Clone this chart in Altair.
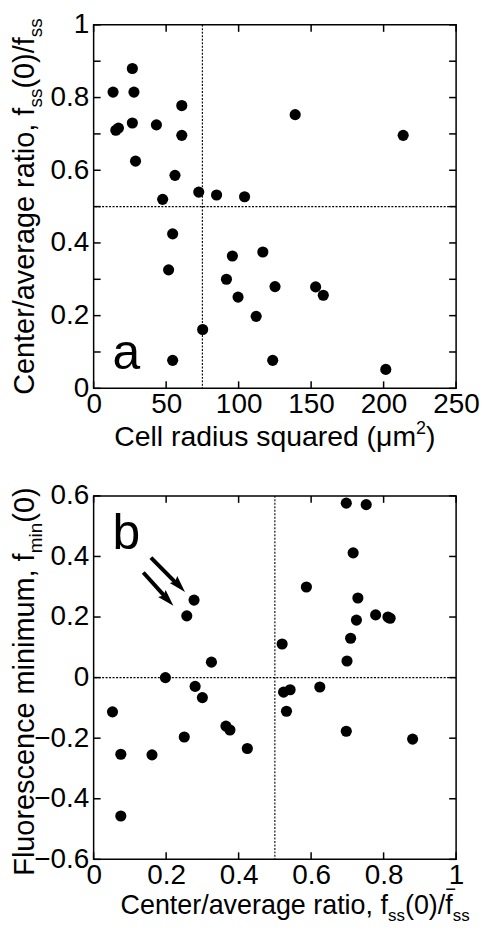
import altair as alt
import pandas as pd
import math

FONT = "Liberation Sans"

# ---------------- data ----------------
# panel a: cell radius squared (um^2) vs center/average ratio
a_radius_sq = [13.4, 26.7, 27.8, 15.3, 17.1, 26.7, 28.9, 43.3, 60.8, 60.8, 56.1, 47.6,
               72.5, 84.8, 104.1, 139.0, 213.5, 54.5, 51.7, 95.7, 116.7, 91.6, 99.6,
               125.1, 153.1, 158.4, 112.1, 75.2, 54.5, 123.5, 201.5]
a_ratio = [0.815, 0.880, 0.815, 0.710, 0.716, 0.730, 0.625, 0.725, 0.778, 0.696, 0.586, 0.520,
           0.540, 0.532, 0.527, 0.753, 0.696, 0.425, 0.326, 0.364, 0.375, 0.300, 0.251,
           0.280, 0.279, 0.256, 0.198, 0.162, 0.077, 0.077, 0.052]

# panel b: center/average ratio vs fluorescence minimum
b_ratio = [0.697, 0.752, 0.716, 0.587, 0.277, 0.729, 0.257, 0.778, 0.812, 0.818, 0.725,
           0.520, 0.709, 0.325, 0.699, 0.198, 0.280, 0.300, 0.524, 0.542, 0.624, 0.532,
           0.052, 0.365, 0.376, 0.697, 0.880, 0.250, 0.424, 0.075, 0.161, 0.075]
b_fmin = [0.576, 0.571, 0.412, 0.299, 0.256, 0.263, 0.204, 0.207, 0.200, 0.196, 0.190,
          0.111, 0.130, 0.051, 0.055, 0.000, -0.029, -0.066, -0.048, -0.040, -0.031, -0.111,
          -0.113, -0.160, -0.173, -0.177, -0.203, -0.196, -0.234, -0.253, -0.255, -0.457]

a_xlabels = [0, 50, 100, 150, 200, 250]
a_xticks = [0, 50, 100, 150, 200, 250]
a_ylabels = [0, 0.2, 0.4, 0.6, 0.8, 1]
a_yticks = [0, 0.1, 0.2, 0.3, 0.4, 0.5, 0.6, 0.7, 0.8, 0.9, 1]
a_xref = [75]
a_yref = [0.5]

b_xlabels = [0, 0.2, 0.4, 0.6, 0.8, 1]
b_xticks = [0, 0.2, 0.4, 0.6, 0.8, 1]
b_ylabels = [-0.6, -0.4, -0.2, 0, 0.2, 0.4, 0.6]
b_yticks = [-0.6, -0.4, -0.2, 0, 0.2, 0.4, 0.6]
b_xref = [0.5]
b_yref = [0]

arrow_tail_x = [0.137, 0.158]
arrow_tail_y = [0.347, 0.396]
arrow_tip_x = [0.220, 0.252]
arrow_tip_y = [0.237, 0.283]

# ---------------- layout ----------------
W = 364
HA = 365
HB = 365
TICK = 7
LABEL_SIZE = 28
YT_X = -60

ARIAL = {' ': 278, '(': 333, ')': 333, ',': 278, '/': 278, '0': 556, '2': 556, 'C': 722,
         'F': 611, 'a': 556, 'c': 500, 'd': 556, 'e': 556, 'f': 278, 'g': 556, 'i': 222,
         'l': 222, 'm': 833, 'n': 556, 'o': 556, 'q': 556, 'r': 333, 's': 500, 't': 278,
         'u': 556, 'v': 500, 'μ': 576}


def tw(s, size):
    return sum(ARIAL.get(c, 556) for c in s) / 1000.0 * size


ONE = pd.DataFrame({"d": [0]})


def xenc(field, domain, labels):
    return alt.X(field, type="quantitative",
                 scale=alt.Scale(domain=domain, nice=False, zero=False),
                 axis=alt.Axis(values=labels, format="~f", ticks=False, domain=False,
                               grid=False, labelFont=FONT, labelFontSize=LABEL_SIZE,
                               labelColor="black", labelPadding=2, labelOverlap=False,
                               labelFlush=False, title=None))


def yenc(field, domain, labels):
    return alt.Y(field, type="quantitative",
                 scale=alt.Scale(domain=domain, nice=False, zero=False),
                 axis=alt.Axis(values=labels, format="~f", ticks=False, domain=False,
                               grid=False, labelFont=FONT, labelFontSize=LABEL_SIZE,
                               labelColor="black", labelPadding=5, labelOverlap=False,
                               labelFlush=False, title=None))


def htext(pieces, x0, y0):
    layers = []
    x = x0
    xs = []
    for txt, size, dy in pieces:
        layers.append(alt.Chart(ONE).mark_text(
            text=txt, font=FONT, fontSize=size, align="left", baseline="alphabetic",
            color="black").encode(x=alt.value(x), y=alt.value(y0 + dy)))
        xs.append(x)
        x += tw(txt, size)
    return layers, xs


def vtext(pieces, xb, y0):
    layers = []
    y = y0
    for txt, size, dx in pieces:
        layers.append(alt.Chart(ONE).mark_text(
            text=txt, font=FONT, fontSize=size, align="left", baseline="alphabetic",
            angle=270, color="black").encode(x=alt.value(xb + dx), y=alt.value(y)))
        y -= tw(txt, size)
    return layers


def total(pieces):
    return sum(tw(t, s) for t, s, _ in pieces)


def panel(x, y, xdom, ydom, xlab, ylab, xt, yt, xref, yref, H, letter, letter_y):
    X = lambda f: xenc(f, xdom, xlab)
    Y = lambda f: yenc(f, ydom, ylab)
    layers = []
    xr = pd.DataFrame({"v": xref})
    yr = pd.DataFrame({"v": yref})
    layers.append(alt.Chart(xr).mark_rule(color="black", strokeWidth=1.1,
                                          strokeDash=[2, 1.5]).encode(x=X("v")))
    layers.append(alt.Chart(yr).mark_rule(color="black", strokeWidth=1.1,
                                          strokeDash=[2, 1.5]).encode(y=Y("v")))
    xtd = pd.DataFrame({"t": xt})
    ytd = pd.DataFrame({"t": yt})
    tk = dict(color="black", strokeWidth=1.5)
    layers.append(alt.Chart(xtd).mark_rule(**tk).encode(
        x=X("t"), y=alt.value(H), y2=alt.value(H - TICK)))
    layers.append(alt.Chart(xtd).mark_rule(**tk).encode(
        x=X("t"), y=alt.value(0), y2=alt.value(TICK)))
    layers.append(alt.Chart(ytd).mark_rule(**tk).encode(
        y=Y("t"), x=alt.value(0), x2=alt.value(TICK)))
    layers.append(alt.Chart(ytd).mark_rule(**tk).encode(
        y=Y("t"), x=alt.value(W), x2=alt.value(W - TICK)))
    pts = pd.DataFrame({"x": x, "y": y})
    layers.append(alt.Chart(pts).mark_circle(size=125, color="black", opacity=1).encode(
        x=X("x"), y=Y("y")))
    layers.append(alt.Chart(ONE).mark_text(
        text=letter, font=FONT, fontSize=50, align="left", baseline="alphabetic",
        color="black").encode(x=alt.value(19), y=alt.value(letter_y)))
    return layers, X, Y


# ---------- panel a ----------
layers_a, Xa, Ya = panel(a_radius_sq, a_ratio, [0, 250], [0, 1], a_xlabels, a_ylabels,
                         a_xticks, a_yticks, a_xref, a_yref, HA, "a", HA - 19)

xa_pieces = [("Cell radius squared (μm", 28.5, 0), ("2", 18, -12), (")", 28.5, 0)]
t, _ = htext(xa_pieces, W / 2 - total(xa_pieces) / 2, HA + 58)
layers_a += t

SUB = 8
ya_pieces = [("Center/average ratio, f", 29, 0), ("ss", 19, SUB), ("(0)/f", 29, 0),
             ("ss", 19, SUB)]
layers_a += vtext(ya_pieces, YT_X, HA / 2 + total(ya_pieces) / 2)

pa = alt.layer(*layers_a).properties(width=W, height=HA)

# ---------- panel b ----------
layers_b, Xb, Yb = panel(b_ratio, b_fmin, [0, 1], [-0.6, 0.6], b_xlabels, b_ylabels,
                         b_xticks, b_yticks, b_xref, b_yref, HB, "b", 53)

# arrows
sx, sy = W / 1.0, HB / 1.2
shaft_end_x, shaft_end_y = [], []
for tx, ty, hx, hy in zip(arrow_tail_x, arrow_tail_y, arrow_tip_x, arrow_tip_y):
    L = math.hypot((hx - tx) * sx, (hy - ty) * sy)
    f = 1 - 9.0 / L
    shaft_end_x.append(tx + f * (hx - tx))
    shaft_end_y.append(ty + f * (hy - ty))
arr = pd.DataFrame({"x": arrow_tail_x, "y": arrow_tail_y, "x2": shaft_end_x,
                    "y2": shaft_end_y, "hx": arrow_tip_x, "hy": arrow_tip_y})
layers_b.append(alt.Chart(arr).mark_rule(color="black", strokeWidth=4, strokeCap="butt").encode(
    x=Xb("x"), y=Yb("y"), x2="x2", y2="y2"))
HEAD = "M0,0L-0.5,1.65L0,1.4L0.5,1.65Z"
layers_b.append(alt.Chart(arr).mark_point(shape=HEAD, size=420, filled=True, color="black",
                                          opacity=1, angle=137, strokeWidth=0).encode(
    x=Xb("hx"), y=Yb("hy")))

XB_BASE = HB + 55
xb_pieces = [("Center/average ratio, f", 27, 0), ("ss", 17, SUB - 1), ("(0)/", 27, 0),
             ("f", 27, 0), ("ss", 17, SUB - 1)]
t, xs = htext(xb_pieces, 27, XB_BASE)
layers_b += t
fx = xs[3]
layers_b.append(alt.Chart(ONE).mark_rule(color="black", strokeWidth=1.5).encode(
    x=alt.value(fx + 1), x2=alt.value(fx + 10), y=alt.value(XB_BASE - 25)))

yb_pieces = [("Fluorescence minimum, f", 29, 0), ("min", 19, SUB), ("(0)", 29, 0)]
layers_b += vtext(yb_pieces, YT_X, HB / 2 + total(yb_pieces) / 2 + 4)

pb = alt.layer(*layers_b).properties(width=W, height=HB)

chart = alt.vconcat(pa, pb, spacing=108, bounds="flush").properties(
    padding={"left": 2, "top": 0, "right": 0, "bottom": 0},
    background="white",
).configure_view(stroke="black", strokeWidth=1.5)

chart.save("out.html", embed_options={"renderer": "svg", "actions": False})
